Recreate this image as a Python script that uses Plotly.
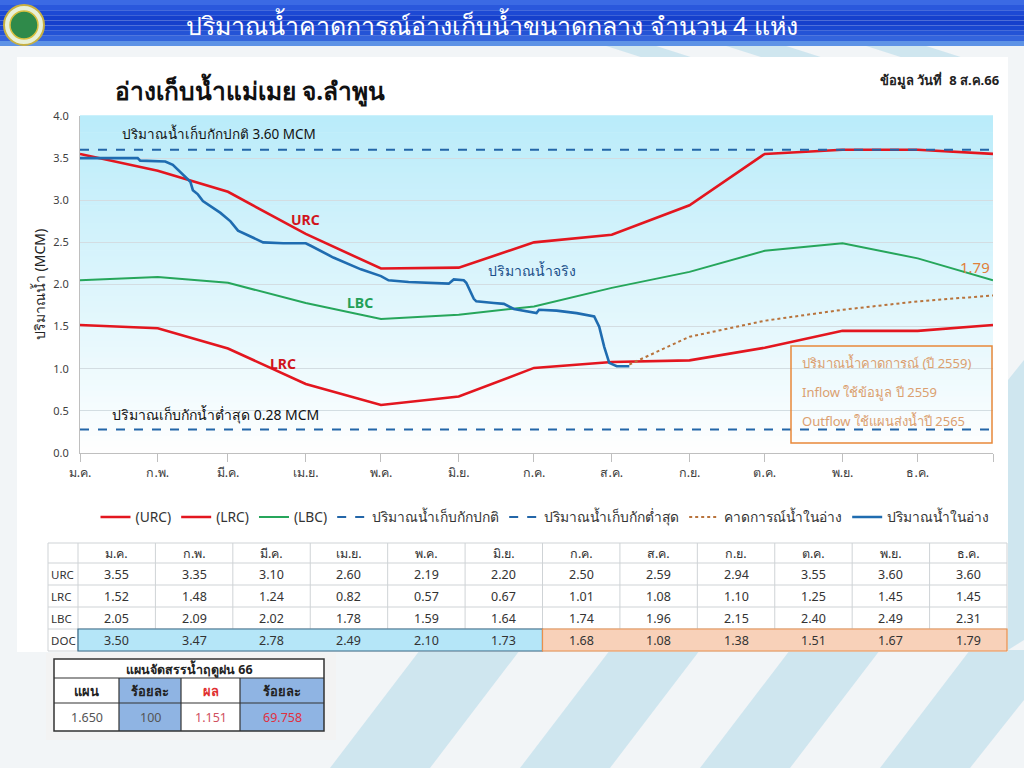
import plotly.graph_objects as go

# ---------------- DATA ----------------
months_th = ["ม.ค.", "ก.พ.", "มี.ค.", "เม.ย.", "พ.ค.", "มิ.ย.",
             "ก.ค.", "ส.ค.", "ก.ย.", "ต.ค.", "พ.ย.", "ธ.ค."]
month_starts = ["2023-01-01", "2023-02-01", "2023-03-01", "2023-04-01",
                "2023-05-01", "2023-06-01", "2023-07-01", "2023-08-01",
                "2023-09-01", "2023-10-01", "2023-11-01", "2023-12-01"]
curve_dates = month_starts + ["2023-12-31"]
urc_vals = [3.55, 3.35, 3.10, 2.60, 2.19, 2.20, 2.50, 2.59, 2.94, 3.55, 3.60, 3.60, 3.55]
lrc_vals = [1.52, 1.48, 1.24, 0.82, 0.57, 0.67, 1.01, 1.08, 1.10, 1.25, 1.45, 1.45, 1.52]
lbc_vals = [2.05, 2.09, 2.02, 1.78, 1.59, 1.64, 1.74, 1.96, 2.15, 2.40, 2.49, 2.31, 2.05]

normal_storage = 3.60
min_storage = 0.28
line_ends = ["2023-01-01", "2023-12-31"]

forecast_dates = ["2023-08-08", "2023-09-01", "2023-10-01", "2023-11-01",
                  "2023-12-01", "2023-12-31"]
forecast_vals = [1.05, 1.38, 1.57, 1.70, 1.80, 1.87]

actual_dates = ["2023-01-01", "2023-01-24", "2023-01-25", "2023-02-04", "2023-02-07",
                "2023-02-12", "2023-02-14", "2023-02-15", "2023-02-17", "2023-02-19",
                "2023-02-24", "2023-02-26", "2023-03-02", "2023-03-05", "2023-03-10",
                "2023-03-15", "2023-03-23", "2023-04-01", "2023-04-03", "2023-04-12",
                "2023-04-23", "2023-05-01", "2023-05-04", "2023-05-12", "2023-05-28",
                "2023-05-30", "2023-06-03", "2023-06-04", "2023-06-07", "2023-06-08",
                "2023-06-15", "2023-06-19", "2023-06-23", "2023-07-02", "2023-07-03",
                "2023-07-10", "2023-07-18", "2023-07-25", "2023-07-27", "2023-07-29",
                "2023-07-31", "2023-08-03", "2023-08-08"]
actual_vals = [3.50, 3.50, 3.47, 3.46, 3.42,
               3.28, 3.22, 3.12, 3.07, 2.99,
               2.89, 2.85, 2.75, 2.64, 2.57,
               2.50, 2.49, 2.49, 2.46, 2.32,
               2.18, 2.10, 2.05, 2.03, 2.01,
               2.06, 2.05, 2.02, 1.83, 1.80,
               1.78, 1.77, 1.71, 1.66, 1.70,
               1.69, 1.66, 1.62, 1.50, 1.26,
               1.07, 1.03, 1.03]

table_rows = ["URC", "LRC", "LBC", "DOC"]
table_urc = [3.55, 3.35, 3.10, 2.60, 2.19, 2.20, 2.50, 2.59, 2.94, 3.55, 3.60, 3.60]
table_lrc = [1.52, 1.48, 1.24, 0.82, 0.57, 0.67, 1.01, 1.08, 1.10, 1.25, 1.45, 1.45]
table_lbc = [2.05, 2.09, 2.02, 1.78, 1.59, 1.64, 1.74, 1.96, 2.15, 2.40, 2.49, 2.31]
table_doc = [3.50, 3.47, 2.78, 2.49, 2.10, 1.73, 1.68, 1.08, 1.38, 1.51, 1.67, 1.79]

plan_title = "แผนจัดสรรน้ำฤดูฝน 66"
plan_headers = ["แผน", "ร้อยละ", "ผล", "ร้อยละ"]
plan_values = ["1.650", "100", "1.151", "69.758"]

slide_title = "ปริมาณน้ำคาดการณ์อ่างเก็บน้ำขนาดกลาง จำนวน 4 แห่ง"
chart_title = "อ่างเก็บน้ำแม่เมย จ.ลำพูน"
data_date = "ข้อมูล วันที่  8 ส.ค.66"

# ---------------- LAYOUT HELPERS ----------------
OFF = 0
W, H = 1024 - 2 * OFF, 768 - 2 * OFF
FONT = "Noto Sans, Tahoma, sans-serif"


def px(x):
    return (x - OFF) / W


def py(y):
    return 1 - (y - OFF) / H


PLOT_X0, PLOT_X1, PLOT_Y0, PLOT_Y1 = 80, 993, 116, 453

RED = "#e3161f"
GREEN = "#26a65b"
BLUE = "#1f6cb0"
DASH_BLUE = "#2366a8"
DOT = "#b8733c"

fig = go.Figure()

fig.add_trace(go.Scatter(x=curve_dates, y=urc_vals, mode="lines", name="(URC)",
                         line=dict(color=RED, width=2.6)))
fig.add_trace(go.Scatter(x=curve_dates, y=lrc_vals, mode="lines", name="(LRC)",
                         line=dict(color=RED, width=2.6)))
fig.add_trace(go.Scatter(x=curve_dates, y=lbc_vals, mode="lines", name="(LBC)",
                         line=dict(color=GREEN, width=2)))
fig.add_trace(go.Scatter(x=line_ends, y=[normal_storage] * 2, mode="lines",
                         name="ปริมาณน้ำเก็บกักปกติ",
                         line=dict(color=DASH_BLUE, width=2, dash="dash")))
fig.add_trace(go.Scatter(x=line_ends, y=[min_storage] * 2, mode="lines",
                         name="ปริมาณน้ำเก็บกักต่ำสุด",
                         line=dict(color=DASH_BLUE, width=2, dash="dash")))
fig.add_trace(go.Scatter(x=forecast_dates, y=forecast_vals, mode="lines",
                         name="คาดการณ์น้ำในอ่าง",
                         line=dict(color=DOT, width=2, dash="dot")))
fig.add_trace(go.Scatter(x=actual_dates, y=actual_vals, mode="lines",
                         name="ปริมาณน้ำในอ่าง",
                         line=dict(color=BLUE, width=2.6)))

shapes = []
annotations = []

# slide background
shapes.append(dict(type="rect", xref="paper", yref="paper", x0=0, x1=1, y0=0, y1=1,
                   fillcolor="#f2f5f7", line_width=0, layer="below"))
# decorative pale stripes
for pts in [
    [(600, 44), (650, 44), (700, 60), (650, 60)],
    [(720, 44), (780, 44), (830, 60), (770, 60)],
    [(860, 44), (920, 44), (970, 60), (910, 60)],
    [(330, 768), (420, 650), (520, 650), (430, 768)],
    [(520, 768), (610, 650), (700, 650), (610, 768)],
    [(700, 768), (790, 650), (880, 650), (790, 768)],
    [(880, 768), (970, 650), (1024, 650), (1024, 700), (970, 768)],
    [(1008, 380), (1024, 360), (1024, 640), (1008, 650)],
]:
    path = "M " + " L ".join(f"{px(a)},{py(b)}" for a, b in pts) + " Z"
    shapes.append(dict(type="path", xref="paper", yref="paper", path=path,
                       fillcolor="rgba(120,190,220,0.28)", line_width=0, layer="below"))
# white panel
shapes.append(dict(type="rect", xref="paper", yref="paper", x0=px(17), x1=px(1008),
                   y0=py(652), y1=py(57), fillcolor="white", line_width=0, layer="below"))
# banner
banner_cols = ["#3b6ae4", "#2a58dc", "#1d49d4", "#1640cc", "#1640cc", "#1a47d0",
               "#2453d6", "#3464dc", "#5e93e6"]
bh = 46 / len(banner_cols)
for i, c in enumerate(banner_cols):
    shapes.append(dict(type="rect", xref="paper", yref="paper", x0=0, x1=1,
                       y0=py((i + 1) * bh), y1=min(1, py(i * bh)), fillcolor=c, line_width=0,
                       layer="below"))
# logo
shapes.append(dict(type="circle", xref="paper", yref="paper", x0=px(4), x1=px(44),
                   y0=py(45), y1=py(5), fillcolor="#e8f0d8", line=dict(color="#c8b040", width=2),
                   layer="below"))
shapes.append(dict(type="circle", xref="paper", yref="paper", x0=px(10), x1=px(38),
                   y0=py(39), y1=py(11), fillcolor="#2f8a4a", line=dict(color="#d8c040", width=1.5),
                   layer="below"))

# gradient plot background
N = 60
top = (186, 236, 250)
bot = (255, 255, 255)
for i in range(N):
    t0 = i / N
    t1 = (i + 1) / N
    tm = (t0 + t1) / 2
    c = tuple(int(bot[k] + (top[k] - bot[k]) * tm) for k in range(3))
    shapes.append(dict(type="rect", xref="x domain", yref="y domain", x0=0, x1=1,
                       y0=t0, y1=t1 + 0.002, fillcolor=f"rgb{c}", line_width=0, layer="below"))

# forecast note box
shapes.append(dict(type="rect", xref="paper", yref="paper", x0=px(791), x1=px(992),
                   y0=py(443), y1=py(346), line=dict(color="#e8883a", width=1.5),
                   fillcolor="rgba(0,0,0,0)", layer="above"))
note_lines = ["ปริมาณน้ำคาดการณ์ (ปี 2559)", "Inflow ใช้ข้อมูล ปี 2559", "Outflow ใช้แผนส่งน้ำปี 2565"]
for i, t in enumerate(note_lines):
    annotations.append(dict(x=px(800), y=py(363 + i * 29), xref="paper", yref="paper",
                            text=t, showarrow=False, xanchor="left", yanchor="middle",
                            font=dict(size=13, color="#dba070", family=FONT)))


def label(x, y, text, size, color, bold=False, anchor="left"):
    annotations.append(dict(x=px(x), y=py(y), xref="paper", yref="paper",
                            text=f"<b>{text}</b>" if bold else text, showarrow=False,
                            xanchor=anchor, yanchor="middle",
                            font=dict(size=size, color=color, family=FONT)))


label(492, 25, slide_title, 25, "white", anchor="center")
label(113, 90, chart_title, 24.5, "#111111", bold=True)
label(1001, 80, data_date, 13, "#222222", bold=True, anchor="right")
label(120, 133, "ปริมาณน้ำเก็บกักปกติ 3.60 MCM", 13.5, "#111111")
label(110, 414, "ปริมาณเก็บกักน้ำต่ำสุด 0.28 MCM", 14, "#111111")
label(305, 219, "URC", 14, "#d0141c", bold=True, anchor="center")
label(360, 302, "LBC", 14, "#23a058", bold=True, anchor="center")
label(283, 364, "LRC", 14, "#d0141c", bold=True, anchor="center")
label(532, 271, "ปริมาณน้ำจริง", 14, "#1a4f8a", anchor="center")
label(975, 267, f"{table_doc[-1]:.2f}", 15, "#e0803a", anchor="center")

# ---------------- monthly table ----------------
TX0, TLAB, TX1 = 48, 78, 1007
cw = (TX1 - TLAB) / 12
row_y = [543, 563, 585, 607, 629, 651]
GRID = "#cfd3d6"
shapes.append(dict(type="rect", xref="paper", yref="paper", x0=px(TLAB), x1=px(TLAB + 6 * cw),
                   y0=py(row_y[5]), y1=py(row_y[4]), fillcolor="#b5e6f8",
                   line=dict(color="#3a6a88", width=1.2), layer="above"))
shapes.append(dict(type="rect", xref="paper", yref="paper", x0=px(TLAB + 6 * cw), x1=px(TX1),
                   y0=py(row_y[5]), y1=py(row_y[4]), fillcolor="#f8d1b9",
                   line=dict(color="#e8904e", width=1.2), layer="above"))
for yy in row_y:
    shapes.append(dict(type="line", xref="paper", yref="paper", x0=px(TX0), x1=px(TX1),
                       y0=py(yy), y1=py(yy), line=dict(color=GRID, width=1), layer="below"))
for j in range(13):
    xx = TLAB + j * cw
    shapes.append(dict(type="line", xref="paper", yref="paper", x0=px(xx), x1=px(xx),
                       y0=py(row_y[-1]), y1=py(row_y[0]), line=dict(color=GRID, width=1),
                       layer="below"))
shapes.append(dict(type="line", xref="paper", yref="paper", x0=px(TX0), x1=px(TX0),
                   y0=py(row_y[-1]), y1=py(row_y[0]), line=dict(color=GRID, width=1),
                   layer="below"))

for j, m in enumerate(months_th):
    label(TLAB + (j + 0.5) * cw, (row_y[0] + row_y[1]) / 2, m, 12.5, "#333333", anchor="center")
for r, (name, vals) in enumerate(zip(table_rows, [table_urc, table_lrc, table_lbc, table_doc])):
    yc = (row_y[r + 1] + row_y[r + 2]) / 2
    label(TX0 + 1, yc, name, 11.5, "#333333")
    for j, v in enumerate(vals):
        label(TLAB + (j + 0.5) * cw, yc, f"{v:.2f}", 12.5, "#333333", anchor="center")

# ---------------- plan table ----------------
shapes.append(dict(type="rect", xref="paper", yref="paper", x0=px(46), x1=px(336),
                   y0=py(740), y1=py(653), fillcolor="#f3f3f3", line_width=0, layer="below"))
pcx = [54, 119, 181, 240, 324]
pry = [659, 678, 703, 731]
shapes.append(dict(type="rect", xref="paper", yref="paper", x0=px(pcx[0]), x1=px(pcx[-1]),
                   y0=py(pry[-1]), y1=py(pry[0]), fillcolor="white", line_width=0, layer="above"))
for j in [1, 3]:
    shapes.append(dict(type="rect", xref="paper", yref="paper", x0=px(pcx[j]), x1=px(pcx[j + 1]),
                       y0=py(pry[3]), y1=py(pry[1]), fillcolor="#8fb4e3", line_width=0,
                       layer="above"))
PL = "#333333"
shapes.append(dict(type="rect", xref="paper", yref="paper", x0=px(pcx[0]), x1=px(pcx[-1]),
                   y0=py(pry[-1]), y1=py(pry[0]), fillcolor="rgba(0,0,0,0)",
                   line=dict(color=PL, width=1.5), layer="above"))
for yy in pry[1:3]:
    shapes.append(dict(type="line", xref="paper", yref="paper", x0=px(pcx[0]), x1=px(pcx[-1]),
                       y0=py(yy), y1=py(yy), line=dict(color=PL, width=1.2), layer="above"))
for xx in pcx[1:4]:
    shapes.append(dict(type="line", xref="paper", yref="paper", x0=px(xx), x1=px(xx),
                       y0=py(pry[3]), y1=py(pry[1]), line=dict(color=PL, width=1.2), layer="above"))
label((pcx[0] + pcx[-1]) / 2, (pry[0] + pry[1]) / 2, plan_title, 12.5, "#222222", bold=True,
      anchor="center")
head_cols = ["#222222", "#222222", "#e03030", "#222222"]
val_cols = ["#555555", "#555555", "#d05060", "#e03040"]
for j in range(4):
    xc = (pcx[j] + pcx[j + 1]) / 2
    label(xc, (pry[1] + pry[2]) / 2, plan_headers[j], 13, head_cols[j], bold=True, anchor="center")
    label(xc, (pry[2] + pry[3]) / 2, plan_values[j], 12.5, val_cols[j], anchor="center")

fig.update_layout(
    width=W, height=H,
    margin=dict(l=0, r=0, t=0, b=0, autoexpand=False),
    paper_bgcolor="white",
    plot_bgcolor="rgba(0,0,0,0)",
    font=dict(family=FONT, size=12, color="#404040"),
    shapes=shapes,
    annotations=annotations,
    showlegend=True,
    legend=dict(orientation="h", x=px(545), xanchor="center", y=py(517), yanchor="middle",
                font=dict(size=13.8, color="#333333", family=FONT), bgcolor="rgba(0,0,0,0)",
                itemwidth=30, tracegroupgap=0),
    xaxis=dict(domain=[px(PLOT_X0), px(PLOT_X1)], type="date", automargin=False,
               range=["2023-01-01", "2023-12-31"],
               tickvals=month_starts + ["2023-12-31"], ticktext=months_th + [""],
               ticks="outside", ticklen=8, tickcolor="#bfbfbf", showgrid=False,
               showline=True, linecolor="#bfbfbf", zeroline=False,
               tickfont=dict(size=12.5, color="#404040")),
    yaxis=dict(domain=[py(PLOT_Y1), py(PLOT_Y0)], range=[0, 4], dtick=0.5, tickformat=".1f",
               automargin=False,
               showgrid=True, gridcolor="#d3dde2", showline=True, linecolor="#bfbfbf",
               zeroline=False, ticks="", ticklabelstandoff=8,
               tickfont=dict(size=11, color="#404040"),
               title=dict(text="ปริมาณน้ำ (MCM)", font=dict(size=14, color="#222222"), standoff=4)),
)

fig.write_html("out.html", config={"displayModeBar": False},
               post_script="document.body.style.margin='0';")
